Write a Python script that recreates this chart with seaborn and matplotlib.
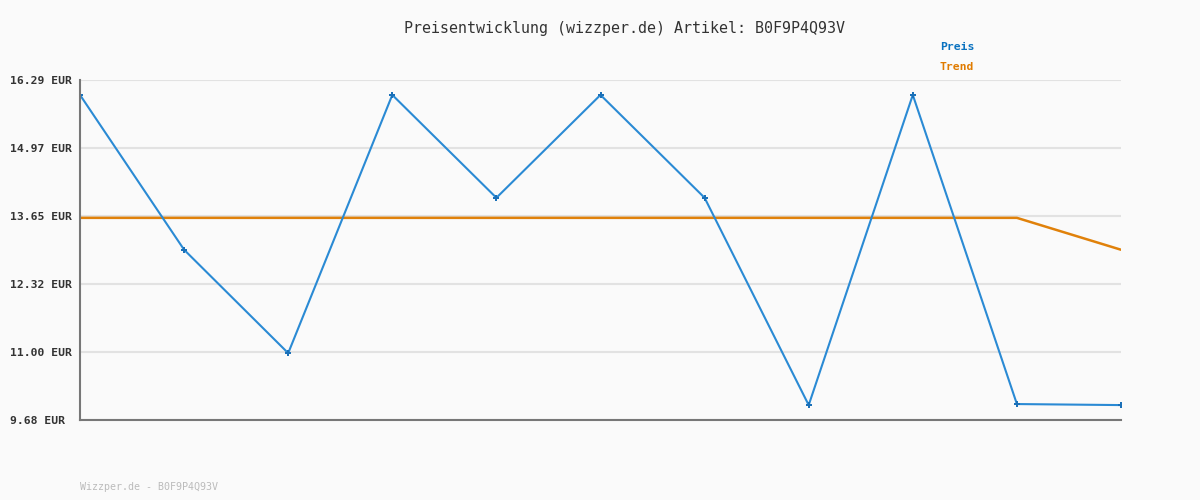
import matplotlib
matplotlib.use("Agg")
import matplotlib.pyplot as plt
import seaborn as sns
import pandas as pd

# data
positions = list(range(11))
preis = [16.00, 12.99, 10.98, 16.00, 14.00, 16.00, 14.00, 9.97, 16.00, 9.99, 9.97]
trend = [13.61, 13.61, 13.61, 13.61, 13.61, 13.61, 13.61, 13.61, 13.61, 13.61, 12.99]
y_ticks = [9.68, 11.00, 12.32, 13.65, 14.97, 16.29]
y_labels = ["9.68 EUR", "11.00 EUR", "12.32 EUR", "13.65 EUR", "14.97 EUR", "16.29 EUR"]

df = pd.DataFrame({"pos": positions, "Preis": preis, "Trend": trend})

sns.set_style("white")
plt.rcParams['font.family'] = ['DejaVu Sans Mono']

fig = plt.figure(figsize=(12, 5), dpi=100, facecolor="#fafafa")
ax = fig.add_axes([80 / 1200, 80 / 500, 1041 / 1200, 340 / 500])
ax.set_facecolor("#fafafa")

sns.lineplot(data=df, x="pos", y="Trend", ax=ax, color="#e0810a", linewidth=1.8)
sns.lineplot(data=df, x="pos", y="Preis", ax=ax, color="#2a8ad4", linewidth=1.5,
             marker="P", markersize=4, markeredgewidth=0, markerfacecolor="#1a70b8")

ax.set_xlim(0, 10)
ax.set_ylim(9.68, 16.29)
ax.set_yticks(y_ticks)
ax.set_yticklabels(y_labels, fontsize=8.2, fontweight="bold", color="#333333")
for lbl in ax.get_yticklabels():
    lbl.set_horizontalalignment("left")
ax.set_xticks([])
ax.set_xlabel("")
ax.set_ylabel("")
# labels start at x=10px, i.e. 70px left of the axis
ax.tick_params(axis="y", length=0, pad=50.4)
ax.grid(axis="y", color="#e2e2e2", linewidth=1.5)
ax.set_axisbelow(True)

for side in ["top", "right"]:
    ax.spines[side].set_visible(False)
for side in ["left", "bottom"]:
    ax.spines[side].set_color("#777777")
    ax.spines[side].set_linewidth(1.5)

fig.text(0.52, 1 - 28 / 500, "Preisentwicklung (wizzper.de) Artikel: B0F9P4Q93V",
         ha="center", va="center", fontsize=10.8, color="#333333")
fig.text(940 / 1200, 1 - 47 / 500, "Preis", ha="left", va="center",
         fontsize=8.2, fontweight="bold", color="#0a72c0")
fig.text(940 / 1200, 1 - 67 / 500, "Trend", ha="left", va="center",
         fontsize=8.2, fontweight="bold", color="#e07b00")
fig.text(80 / 1200, 1 - 487 / 500, "Wizzper.de - B0F9P4Q93V", ha="left", va="center",
         fontsize=7.2, color="#bbbbbb")

fig.savefig("out.png", dpi=100, facecolor="#fafafa")
